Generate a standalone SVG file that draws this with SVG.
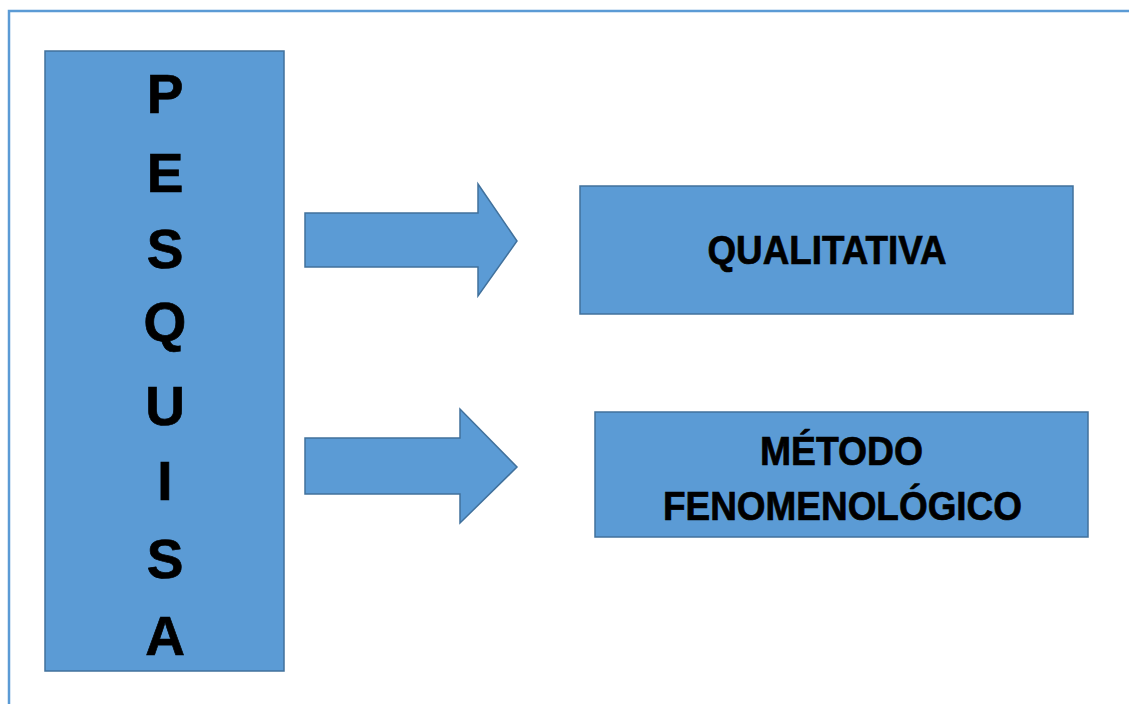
<svg xmlns="http://www.w3.org/2000/svg" width="1129" height="704" viewBox="0 0 1129 704">
<style>
.shape{fill:#5b9bd5;stroke:#41719c;stroke-width:1.5}
.lbl{font-family:"Liberation Sans",Arial,sans-serif;font-weight:bold;fill:#000;stroke:#000;stroke-width:0.7;text-anchor:middle}
.big{font-size:55px}
.mid{font-size:40px}
</style>
<rect width="1129" height="704" fill="#ffffff"/>
<path d="M9,704 V11 H1129" fill="none" stroke="#5b9bd5" stroke-width="2.5"/>
<g id="pesquisa">
<rect class="shape" x="45" y="51" width="239" height="620"/>
<text class="lbl big" x="165" y="113">P</text>
<text class="lbl big" x="165" y="192">E</text>
<text class="lbl big" x="165" y="268">S</text>
<text class="lbl big" x="165" y="341">Q</text>
<text class="lbl big" x="165" y="425">U</text>
<text class="lbl big" x="165" y="500">I</text>
<text class="lbl big" x="165" y="578">S</text>
<text class="lbl big" x="165" y="655">A</text>
</g>
<g id="connectors">
<polygon class="shape" points="305,213 478,213 478,184 517,241 478,296 478,267 305,267"/>
<polygon class="shape" points="305,438 460,438 460,409 517,467 460,523 460,494 305,494"/>
</g>
<g id="qualitativa">
<rect class="shape" x="580" y="186" width="493" height="128"/>
<text class="lbl mid" x="827" y="264" textLength="239" lengthAdjust="spacingAndGlyphs">QUALITATIVA</text>
</g>
<g id="metodo">
<rect class="shape" x="595" y="412" width="493" height="125"/>
<text class="lbl mid" x="841.5" y="465" font-size="42" textLength="163" lengthAdjust="spacingAndGlyphs">MÉTODO</text>
<text class="lbl mid" x="842.5" y="520" font-size="42" textLength="359" lengthAdjust="spacingAndGlyphs">FENOMENOLÓGICO</text>
</g>
</svg>
